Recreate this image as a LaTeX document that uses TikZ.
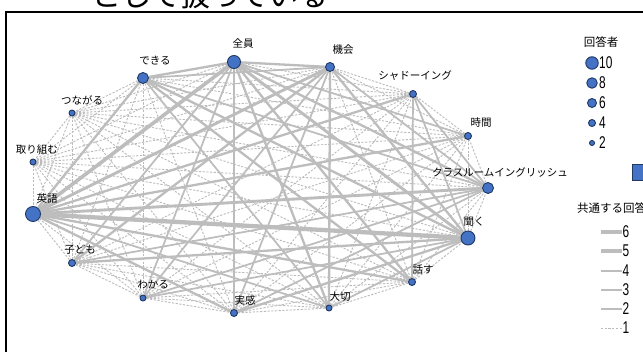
\documentclass[tikz,border=0pt]{standalone}
\usepackage{fontspec}
\setmainfont{Noto Sans CJK JP}
\newfontfamily\numfont[FakeStretch=0.7]{Liberation Sans}
\usetikzlibrary{backgrounds}
\definecolor{nodeblue}{HTML}{4472C4}
\definecolor{nodeedge}{HTML}{1F3864}
\definecolor{linkgray}{HTML}{BDBDBD}
\definecolor{dashgray}{HTML}{BBBBBB}
\tikzset{
  vtx/.style={circle, draw=nodeedge, fill=nodeblue, line width=0.9pt, inner sep=0pt, minimum size=#1},
  lbl/.style={font=\fontsize{10.5}{12}\selectfont, inner sep=0pt},
  num/.style={font=\numfont\fontsize{17}{18}\selectfont, inner sep=0pt, anchor=west},
  w1/.style={draw=dashgray, line width=0.9pt, dash pattern=on 2.2pt off 1.5pt},
  w2/.style={draw=linkgray, line width=1.7pt},
  w3/.style={draw=linkgray, line width=2.3pt},
  w4/.style={draw=linkgray, line width=2.9pt},
  w5/.style={draw=linkgray, line width=3.6pt},
  w6/.style={draw=linkgray, line width=4.3pt},
}
\begin{document}
\begin{tikzpicture}[x=1pt,y=-1pt]
\useasboundingbox (0,0) rectangle (643,352);
\begin{scope}[on background layer]
  \fill[white] (0,0) rectangle (643,352);
\end{scope}

% running text above the frame (only its lower part shows)
\node[font=\fontsize{30}{30}\selectfont, anchor=base west, inner sep=0pt] (runtext) at (61,7) {ーとして扱っている};

% frame
\draw[line width=1.8pt] (6,353) -- (6,12) -- (644,12);

% words
\node[vtx=13pt] (Z)  at (234,62)  {};
\node[vtx=11pt] (D)  at (143,78)  {};
\node[vtx=6pt]  (N)  at (72,113)  {};
\node[vtx=6pt]  (T)  at (33,162)  {};
\node[vtx=15pt] (E)  at (33,214)  {};
\node[vtx=7pt]  (Ko) at (72,263)  {};
\node[vtx=6pt]  (W)  at (143,298) {};
\node[vtx=7pt]  (Jk) at (234,313) {};
\node[vtx=6pt]  (Ts) at (329,308) {};
\node[vtx=7pt]  (H)  at (412,282) {};
\node[vtx=14pt] (K)  at (468,238) {};
\node[vtx=11pt] (C)  at (488,188) {};
\node[vtx=7pt]  (J)  at (468,136) {};
\node[vtx=7pt]  (S)  at (413,94)  {};
\node[vtx=9pt]  (M)  at (330,67)  {};

\node[lbl] (lZ)  at (243,44)  {全員};
\node[lbl] (lD)  at (155,61)  {できる};
\node[lbl] (lN)  at (82,100)  {つながる};
\node[lbl] (lT)  at (37,150)  {取り組む};
\node[lbl] (lE)  at (47,199)  {英語};
\node[lbl] (lKo) at (80,250)  {子ども};
\node[lbl] (lW)  at (153,285) {わかる};
\node[lbl] (lJk) at (245,300) {実感};
\node[lbl] (lTs) at (340,297) {大切};
\node[lbl] (lH)  at (423,270) {話す};
\node[lbl] (lK)  at (474,222) {聞く};
\node[lbl] (lC)  at (500,172) {クラスルームイングリッシュ};
\node[lbl] (lJ)  at (481,123) {時間};
\node[lbl] (lS)  at (415,76)  {シャドーイング};
\node[lbl] (lM)  at (343,50)  {機会};

% co-occurrence links
\begin{scope}[on background layer]
  \foreach \a [count=\i] in {Z,D,N,T,E,Ko,W,Jk,Ts,H,K,C,J,S,M} {
    \foreach \b [count=\j] in {Z,D,N,T,E,Ko,W,Jk,Ts,H,K,C,J,S,M} {
      \ifnum\j>\i \draw[w1] (\a) -- (\b); \fi
    }
  }
  \foreach \a/\b in {Z/W,Z/Ko,Z/J,E/Ts,D/C,D/M,D/Ts,M/C,M/Jk,M/W,K/W,K/S,K/Ts,C/Jk,C/Ko,C/S,C/W,S/H}
    \draw[w2] (\a) -- (\b);
  \foreach \a/\b in {E/S,E/J,E/H,E/Jk,E/D,Z/D,Z/M,Z/C,Z/Jk,Z/H,Z/Ts,D/K,D/H,M/Ko,M/K,M/Ts,K/Jk,K/Ko}
    \draw[w3] (\a) -- (\b);
  \foreach \a/\b in {E/M,E/C,Z/K}
    \draw[w4] (\a) -- (\b);
  \draw[w5] (E) -- (Z);
  \draw[w6] (E) -- (K);
\end{scope}

% legend: respondents
\node[font=\fontsize{11.5}{12}\selectfont, inner sep=0pt] (legA) at (601,42) {回答者};
\foreach \v/\d/\y in {10/12.5/63, 8/10.5/83, 6/9/103, 4/7/123, 2/5/143} {
  \node[vtx=\d pt] (c\v) at (592,\y) {};
  \node[num] (t\v) at (599,\y) {\v};
}

% partially visible colour key
\node[draw=nodeedge, fill=nodeblue, line width=0.9pt, minimum width=14pt, minimum height=16pt, inner sep=0pt, anchor=west] (key) at (632,172) {};

% legend: shared answers
\node[font=\fontsize{11.5}{12}\selectfont, inner sep=0pt, anchor=west] (legB) at (577,208) {共通する回答};
\foreach \w/\y in {6/232, 5/251, 4/271, 3/290, 2/309, 1/328} {
  \coordinate (s\w) at (601,\y);
  \coordinate (e\w) at (622,\y);
  \draw[w\w] (s\w) -- (e\w);
  \node[num] (n\w) at (622.5,\y) {\w};
}
\end{tikzpicture}
\end{document}
